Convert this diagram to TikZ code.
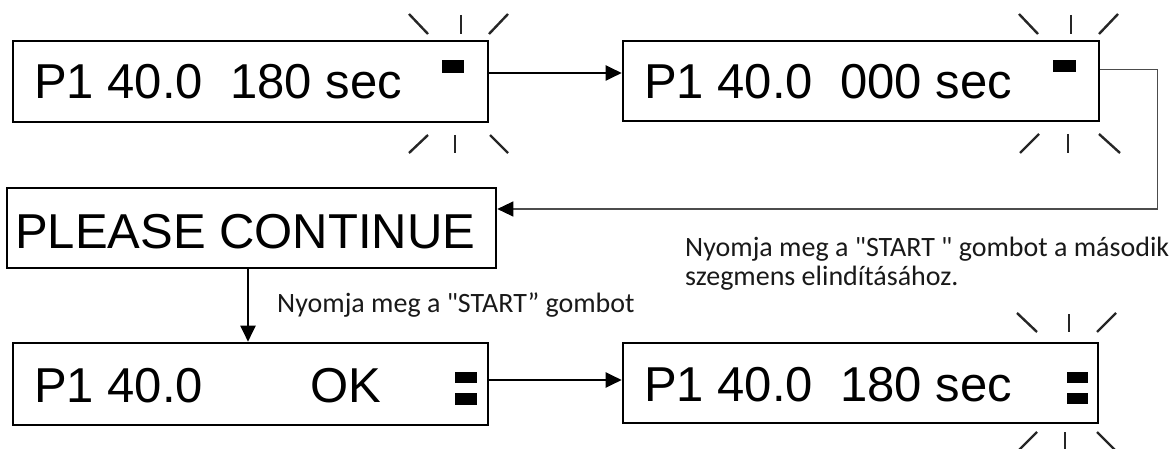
\documentclass[tikz,border=0pt]{standalone}
\usepackage{fontspec}
\setmainfont{Liberation Sans}
\newfontfamily\calfont{Carlito}
\usetikzlibrary{arrows.meta}
\begin{document}
\begin{tikzpicture}[x=1pt,y=-1pt,
  lcdbox/.style={draw=black, line width=2.6pt, inner sep=0pt},
  lcdtext/.style={inner sep=0pt, anchor=base west, font=\fontsize{49}{58}\selectfont},
  note/.style={inner sep=0pt, anchor=base west, text=black!90, font=\calfont\fontsize{28}{30}\selectfont},
  seg/.style={fill=black},
  ray/.style={line width=2.4pt, draw=black!85},
  flow/.style={line width=2pt, -{Triangle[length=16pt,width=15pt]}},
  thinflow/.style={line width=1.2pt, draw=black!70, -{Triangle[length=16pt,width=15pt,color=black]}}]
\useasboundingbox (0,0) rectangle (1173,449);

% boxes
\node[lcdbox, minimum width=475pt, minimum height=81pt] (b1) at (250.5,81.5) {};
\node[lcdbox, minimum width=476pt, minimum height=80pt] (b2) at (861,81) {};
\node[lcdbox, minimum width=489pt, minimum height=80pt] (pc) at (251.5,228) {};
\node[lcdbox, minimum width=475pt, minimum height=82pt] (b3) at (250.5,384) {};
\node[lcdbox, minimum width=475pt, minimum height=80pt] (b4) at (860.5,383) {};

% texts
\node[lcdtext] (t1) at (34,99) {P1 40.0\ \ 180 sec};
\node[lcdtext] (t2) at (644,99) {P1 40.0\ \ 000 sec};
\node[lcdtext] (t3) at (15,248) {PLEASE CONTINUE};
\node[lcdtext] (t4) at (34,402) {P1 40.0\hspace{107pt}OK};
\node[lcdtext] (t5) at (644,401) {P1 40.0\ \ 180 sec};

% segments
\fill[seg] (442,60) rectangle (464,73);
\fill[seg] (1053,60) rectangle (1076,72);
\fill[seg] (455,372) rectangle (477,383);
\fill[seg] (455,393) rectangle (477,405);
\fill[seg] (1067,372) rectangle (1088,383);
\fill[seg] (1067,393) rectangle (1088,404);

% blink rays b1
\draw[ray] (409,14) -- (428,34);
\draw[ray] (461,15) -- (461,34);
\draw[ray] (489,34) -- (508,14);
\draw[ray] (409,153) -- (428,135);
\draw[ray] (455,135) -- (455,153);
\draw[ray] (490,135) -- (508,153);
% blink rays b2
\draw[ray] (1019,14) -- (1038,34);
\draw[ray] (1071,15) -- (1071,34);
\draw[ray] (1099,34) -- (1118,14);
\draw[ray] (1020,153) -- (1039,134);
\draw[ray] (1068,134) -- (1068,153);
\draw[ray] (1099,134) -- (1120,153);
% blink rays b4
\draw[ray] (1017,313) -- (1037,332);
\draw[ray] (1069,314) -- (1069,332);
\draw[ray] (1097,332) -- (1116,313);
\draw[ray] (1017,452) -- (1037,432);
\draw[ray] (1065,432) -- (1065,452);
\draw[ray] (1097,432) -- (1117,452);

% connectors
\draw[flow] ([yshift=8.5pt]b1.east) -- ([yshift=8.5pt]b1.east -| b2.west);
\draw[thinflow] ([yshift=11.5pt]b2.east) -- ++(57,0) |- ([yshift=19pt]pc.east);
\draw[flow] ([xshift=-3.5pt]pc.south) -- ([xshift=-3.5pt]pc.south |- b3.north);
\draw[flow] ([yshift=4pt]b3.east) -- ([yshift=4pt]b3.east -| b4.west);

% notes
\node[note] (n1) at (277,312) {Nyomja meg a "START” gombot};
\node[note] (n2) at (685,257) {Nyomja meg a "START " gombot a második};
\node[note] (n3) at (685,285) {szegmens elindításához.};
\end{tikzpicture}
\end{document}
